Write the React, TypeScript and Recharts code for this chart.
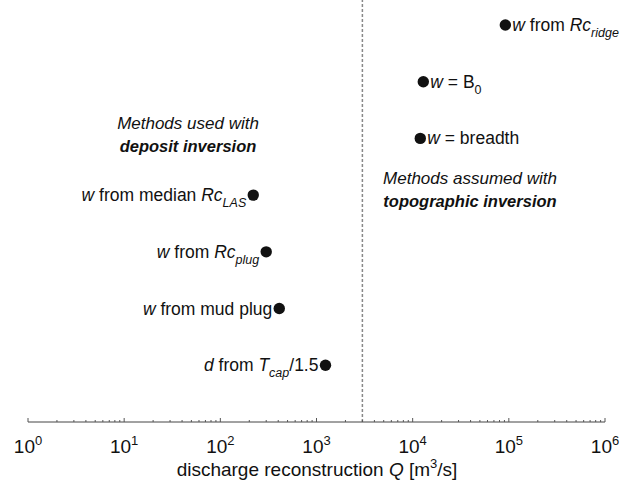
import React from "react";
import {
  ScatterChart,
  Scatter,
  XAxis,
  YAxis,
  ReferenceLine,
  Customized,
} from "recharts";

// one text run of a label: italic / bold / subscript
interface Seg {
  t: string;
  i?: boolean;
  b?: boolean;
  sub?: boolean;
}

// top to bottom
const methodLabels: Seg[][] = [
  [{ t: "w", i: true }, { t: " from " }, { t: "Rc", i: true }, { t: "ridge", i: true, sub: true }],
  [{ t: "w", i: true }, { t: " = B" }, { t: "0", sub: true }],
  [{ t: "w", i: true }, { t: " = breadth" }],
  [{ t: "w", i: true }, { t: " from median " }, { t: "Rc", i: true }, { t: "LAS", i: true, sub: true }],
  [{ t: "w", i: true }, { t: " from " }, { t: "Rc", i: true }, { t: "plug", i: true, sub: true }],
  [{ t: "w", i: true }, { t: " from mud plug" }],
  [{ t: "d", i: true }, { t: " from " }, { t: "T", i: true }, { t: "cap", i: true, sub: true }, { t: "/1.5" }],
];
const discharge = [92000, 12900, 12000, 220, 300, 410, 1240];
const rank = [7, 6, 5, 4, 3, 2, 1];
const labelSide = ["right", "right", "right", "left", "left", "left", "left"];

const decades = [1, 10, 100, 1000, 10000, 100000, 1000000];
const minorSteps = [2, 3, 4, 5, 6, 7, 8, 9];
const splitQ = 3000;

const allTicks: number[] = [];
decades.forEach((d, k) => {
  allTicks.push(d);
  if (k < decades.length - 1) minorSteps.forEach((m) => allTicks.push(d * m));
});

const data = discharge.map((q, k) => ({
  q,
  rank: rank[k],
  parts: methodLabels[k],
  side: labelSide[k],
}));

const FONT = "'Liberation Sans', Arial, Helvetica, sans-serif";
const INK = "#111";

function Runs({ parts }: { parts: Seg[] }) {
  let shifted = false;
  return (
    <>
      {parts.map((s, k) => {
        let dy = 0;
        if (s.sub && !shifted) {
          dy = 6;
          shifted = true;
        } else if (!s.sub && shifted) {
          dy = -6;
          shifted = false;
        }
        return (
          <tspan
            key={k}
            dy={dy}
            fontStyle={s.i ? "italic" : "normal"}
            fontWeight={s.b ? "bold" : "normal"}
            fontSize={s.sub ? 12.5 : 17.5}
          >
            {s.t}
          </tspan>
        );
      })}
    </>
  );
}

const MethodDot = (props: any) => {
  const { cx, cy, payload } = props;
  const right = payload.side === "right";
  return (
    <g>
      <circle cx={cx} cy={cy} r={5.7} fill={INK} />
      <text
        x={right ? cx + 7 : cx - 7}
        y={cy + 6}
        textAnchor={right ? "start" : "end"}
        fontFamily={FONT}
        fill={INK}
      >
        <Runs parts={payload.parts} />
      </text>
    </g>
  );
};

const LogTick = (props: any) => {
  const { x, y, payload } = props;
  const v = payload.value;
  const p = Math.round(Math.log10(v));
  const major = Math.abs(Math.pow(10, p) - v) < 1e-6 * v;
  return (
    <g>
      <line x1={x} x2={x} y1={y} y2={y - (major ? 4 : 2)} stroke="#555" />
      {major && (
        <text x={x} y={y + 31} textAnchor="middle" fontFamily={FONT} fontSize={19} fill={INK}>
          10
          <tspan dy={-8} fontSize={13}>
            {p}
          </tspan>
        </text>
      )}
    </g>
  );
};

const Notes = () => (
  <g fontFamily={FONT} fill={INK} textAnchor="middle">
    <text x={188} y={129} fontSize={17} fontStyle="italic">Methods used with</text>
    <text x={188} y={152} fontSize={16.5} fontStyle="italic" fontWeight="bold">deposit inversion</text>
    <text x={470} y={184} fontSize={17} fontStyle="italic">Methods assumed with</text>
    <text x={470} y={207} fontSize={16.5} fontStyle="italic" fontWeight="bold">topographic inversion</text>
    <text x={317} y={476} fontSize={19}>
      discharge reconstruction <tspan fontStyle="italic">Q</tspan> [m
      <tspan dy={-8} fontSize={13}>3</tspan>
      <tspan dy={8}>/s]</tspan>
    </text>
  </g>
);

export default function App() {
  return (
    <div style={{ position: "fixed", left: 0, top: 0, background: "#fff" }}>
      <ScatterChart
        width={628}
        height={489}
        margin={{ top: 0, right: 23, bottom: 0, left: 28 }}
      >
        <XAxis
          type="number"
          dataKey="q"
          scale="log"
          domain={[1, 1000000]}
          ticks={allTicks}
          interval={0}
          tickSize={0}
          tickMargin={0}
          tickLine={false}
          tick={<LogTick />}
          axisLine={{ stroke: "#444" }}
          height={67}
        />
        <YAxis
          type="number"
          dataKey="rank"
          domain={[0, 7.44]}
          width={0}
          tick={false}
          tickLine={false}
          axisLine={{ stroke: "#888" }}
        />
        <ReferenceLine
          x={splitQ}
          stroke="#888"
          strokeWidth={1.5}
          strokeDasharray="3 2"
        />
        <Scatter data={data} shape={<MethodDot />} isAnimationActive={false} />
        <Customized component={Notes} />
      </ScatterChart>
    </div>
  );
}
